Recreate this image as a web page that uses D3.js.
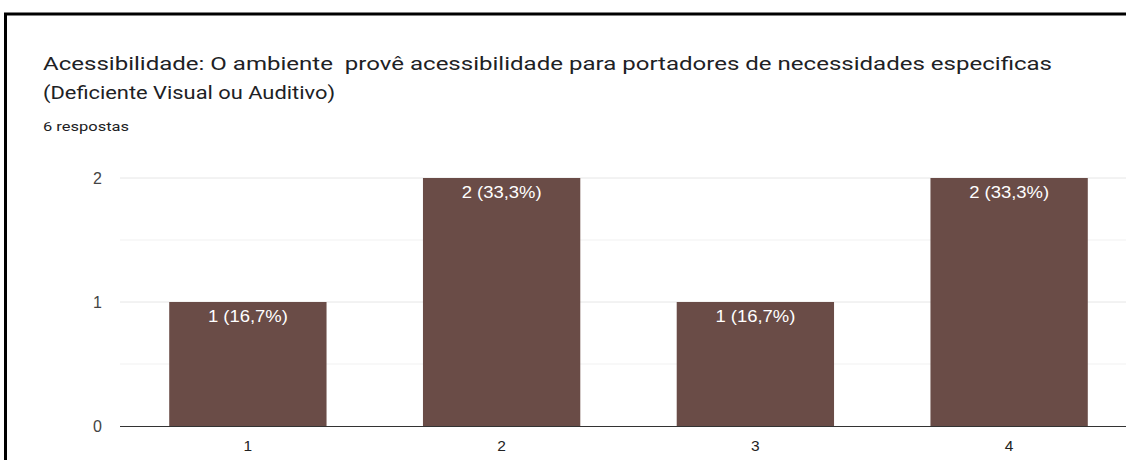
<!DOCTYPE html>
<html><head><meta charset="utf-8">
<script src="https://cdn.jsdelivr.net/npm/d3@7"></script>
<style>html,body{margin:0;padding:0;background:#fff;}svg{display:block;}</style>
</head><body>
<svg id="c" width="1126" height="460"></svg>
<script>
const titleLines = ["Acessibilidade: O ambiente  provê acessibilidade para portadores de necessidades especificas", "(Deficiente Visual ou Auditivo)"];
const subtitle = "6 respostas";
const categories = ["1", "2", "3", "4"];
const counts = [1, 2, 1, 2];
const barLabels = ["1 (16,7%)", "2 (33,3%)", "1 (16,7%)", "2 (33,3%)"];
const yTicks = [0, 1, 2];
const yMinorTicks = [0.5, 1.5];

const svg = d3.select("#c");
const W = 1126, H = 460;

// frame
svg.append("line").attr("x1", 4).attr("x2", W).attr("y1", 14).attr("y2", 14).attr("stroke", "#000").attr("stroke-width", 3);
svg.append("line").attr("x1", 5.5).attr("x2", 5.5).attr("y1", 13).attr("y2", H).attr("stroke", "#000").attr("stroke-width", 3);

// titles
const titleFont = "Roboto, 'Open Sans', sans-serif";
svg.append("text").attr("x", 43).attr("y", 70).attr("font-family", titleFont).attr("font-size", 19).attr("fill", "#202124")
  .attr("xml:space","preserve").attr("textLength", 1009).attr("lengthAdjust", "spacingAndGlyphs").text(titleLines[0]);
svg.append("text").attr("x", 43).attr("y", 99).attr("font-family", titleFont).attr("font-size", 19).attr("fill", "#202124")
  .attr("textLength", 292).attr("lengthAdjust", "spacingAndGlyphs").text(titleLines[1]);
svg.append("text").attr("x", 43).attr("y", 131).attr("font-family", titleFont).attr("font-size", 13.5).attr("fill", "#202124")
  .attr("textLength", 86).attr("lengthAdjust", "spacingAndGlyphs").text(subtitle);

// scales
const x = d3.scaleBand().domain(categories).range([121, 1136]).paddingInner(0.38).paddingOuter(0.19);
const y = d3.scaleLinear().domain([0, 2]).range([426, 178]);
const plotL = 120, plotR = W;
const chartFont = "'Liberation Sans', Arial, sans-serif";

// gridlines
svg.append("g").selectAll("line").data(yMinorTicks).join("line")
  .attr("x1", plotL).attr("x2", plotR).attr("y1", d => y(d)).attr("y2", d => y(d))
  .attr("stroke", "#f1f1f1").attr("stroke-width", 1);
svg.append("g").selectAll("line").data(yTicks.filter(d => d > 0)).join("line")
  .attr("x1", plotL).attr("x2", plotR).attr("y1", d => y(d)).attr("y2", d => y(d))
  .attr("stroke", "#e6e6e6").attr("stroke-width", 1);

// y axis
const yAxis = svg.append("g").attr("transform", `translate(${plotL},0)`)
  .call(d3.axisLeft(y).tickValues(yTicks).tickFormat(d3.format("d")).tickSize(0).tickPadding(18));
yAxis.select(".domain").remove();
yAxis.selectAll("text").attr("font-family", chartFont).attr("font-size", 16).attr("fill", "#444");

// bars
svg.append("g").selectAll("rect").data(counts).join("rect")
  .attr("x", (d, i) => x(categories[i])).attr("width", x.bandwidth())
  .attr("y", d => y(d)).attr("height", d => y(0) - y(d))
  .attr("fill", "#6a4c47");

// bar labels
svg.append("g").selectAll("text").data(counts).join("text")
  .attr("x", (d, i) => x(categories[i]) + x.bandwidth() / 2)
  .attr("y", d => y(d) + 20)
  .attr("text-anchor", "middle").attr("font-family", chartFont).attr("font-size", 16)
  .attr("textLength", 80).attr("lengthAdjust", "spacingAndGlyphs")
  .attr("fill", "#fff").text((d, i) => barLabels[i]);

// x axis
const xAxis = svg.append("g").attr("transform", `translate(0,${y(0)})`)
  .call(d3.axisBottom(x).tickSize(0).tickPadding(14));
xAxis.select(".domain").remove();
xAxis.selectAll("text").attr("font-family", chartFont).attr("font-size", 15.5).attr("fill", "#222");
svg.append("line").attr("x1", plotL).attr("x2", plotR).attr("y1", y(0) + 0.5).attr("y2", y(0) + 0.5).attr("stroke", "#333").attr("stroke-width", 1.2);
</script>
</body></html>
